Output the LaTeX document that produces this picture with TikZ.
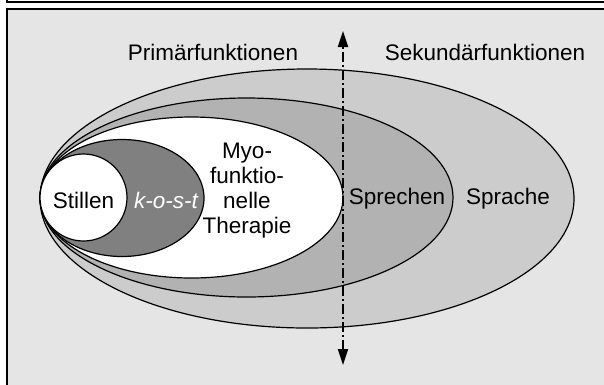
\documentclass[tikz,border=0pt]{standalone}
\usepackage{fontspec}
\setmainfont{Liberation Sans}
\usetikzlibrary{arrows.meta}
\definecolor{bgframe}{gray}{0.90}
\definecolor{sprachecol}{gray}{0.80}
\definecolor{sprechencol}{gray}{0.70}
\definecolor{kostcol}{gray}{0.50}
\tikzset{
  lbl/.style={inner sep=0pt, font=\fontsize{22.5}{25}\selectfont},
  zone/.style={draw=black, line width=1.2pt},
  axisline/.style={line width=2pt, dash pattern=on 10pt off 3pt on 2pt off 3pt,
    {Triangle[length=16pt,width=10pt]}-{Triangle[length=16pt,width=10pt]}},
  framebox/.style={draw=black, line width=2pt}
}
\begin{document}
\begin{tikzpicture}[x=1pt,y=-1pt]
\useasboundingbox (0,0) rectangle (604,384);
% top strip and main frame
\draw[framebox, fill=white] (7,-20) rectangle (640,1.5);
\draw[framebox, fill=bgframe] (7,9) rectangle (640,420);
% nested zones
\draw[zone, fill=sprachecol] (307,198.5) ellipse [x radius=267pt, y radius=129.5pt];
\draw[zone, fill=sprechencol] (246.5,197.5) ellipse [x radius=206.5pt, y radius=99.5pt];
\draw[zone, fill=white] (191.5,197.5) ellipse [x radius=151.5pt, y radius=80.5pt];
\draw[zone, fill=kostcol] (122,198) ellipse [x radius=82pt, y radius=58.5pt];
\draw[zone, fill=white] (83.5,197.5) circle [radius=43.5pt];
% axis
\coordinate (axtop) at (343,31);
\coordinate (axbot) at (343,365);
\draw[axisline] (axbot) -- (axtop);
% labels
\node[lbl] (prim) at (213,52) {Primärfunktionen};
\node[lbl] (sek) at (485,52) {Sekundärfunktionen};
\node[lbl] (still) at (83.5,200) {Stillen};
\node[lbl, text=white, font=\fontsize{22.5}{25}\selectfont\itshape] (kost) at (166,200) {k-o-s-t};
\node[lbl, align=center] (myo) at (247,191) {Myo-\\funktio-\\nelle\\Therapie};
\node[lbl] (sprech) at (397,199) {Sprechen};
\node[lbl] (sprach) at (508,199) {Sprache};
\end{tikzpicture}
\end{document}
